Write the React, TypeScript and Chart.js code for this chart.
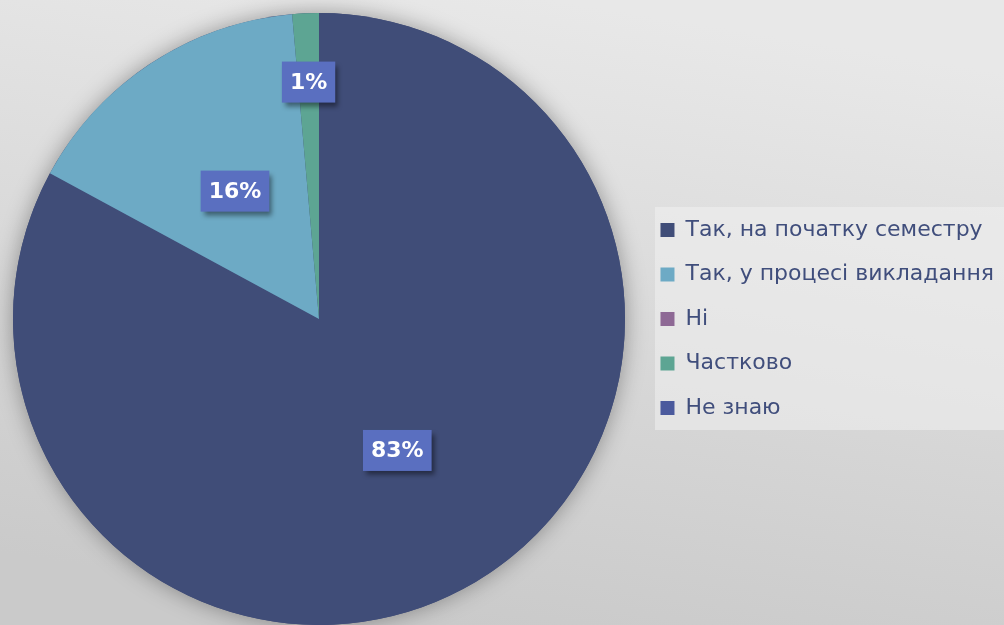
import React, { useEffect, useRef } from "react";
import { Chart, registerables } from "chart.js";

Chart.register(...registerables);

const categories = ["Так, на початку семестру", "Так, у процесі викладання", "Ні", "Частково", "Не знаю"];
const values = [82.9, 15.7, 0, 1.4, 0];
const colors = ["#404D78", "#6DAAC5", "#8E6995", "#5DA593", "#4B5A9D"];

const pieShadow = {
  id: "pieShadow",
  beforeDatasetsDraw(chart: any) {
    const meta = chart.getDatasetMeta(0);
    const arc = meta.data[0];
    if (!arc) return;
    const { x, y, outerRadius } = arc.getProps(["x", "y", "outerRadius"], true);
    const ctx = chart.ctx;
    ctx.save();
    ctx.shadowColor = "rgba(0,0,0,0.35)";
    ctx.shadowBlur = 22;
    ctx.beginPath();
    ctx.arc(x, y, outerRadius, 0, Math.PI * 2);
    ctx.fillStyle = "#404D78";
    ctx.fill();
    ctx.restore();
  },
};

const bgPlugin = {
  id: "bgPlugin",
  beforeDraw(chart: any) {
    const ctx = chart.ctx;
    const w = chart.width, h = chart.height;
    ctx.save();
    const g = ctx.createLinearGradient(w * 0.55, 0, w * 0.45, h);
    g.addColorStop(0, "#E8E8E8");
    g.addColorStop(1, "#CACACA");
    ctx.fillStyle = g;
    ctx.fillRect(0, 0, w, h);
    ctx.fillStyle = "rgba(240,240,240,0.55)";
    ctx.fillRect(655, 207, w - 655, 223);
    ctx.restore();
  },
};

const labelPlugin = {
  id: "labelPlugin",
  afterDatasetsDraw(chart: any) {
    const ctx = chart.ctx;
    const meta = chart.getDatasetMeta(0);
    const data = chart.data.datasets[0].data as number[];
    const total = data.reduce((a, b) => a + b, 0);
    meta.data.forEach((arc: any, i: number) => {
      const v = data[i];
      if (!v) return;
      const { x, y, startAngle, endAngle, outerRadius } = arc.getProps(["x", "y", "startAngle", "endAngle", "outerRadius"], true);
      const mid = (startAngle + endAngle) / 2;
      const frac = v / total < 0.05 ? 0.775 : 0.5;
      const px = x + Math.cos(mid) * outerRadius * frac;
      const py = y + Math.sin(mid) * outerRadius * frac;
      const text = Math.round((v / total) * 100) + "%";
      ctx.save();
      ctx.font = "bold 22px 'DejaVu Sans'";
      const tw = ctx.measureText(text).width;
      const bw = tw + 16, bh = 41;
      ctx.shadowColor = "rgba(0,0,0,0.45)";
      ctx.shadowBlur = 5;
      ctx.shadowOffsetX = 3;
      ctx.shadowOffsetY = 4;
      ctx.fillStyle = "#5A6FC0";
      ctx.fillRect(px - bw / 2, py - bh / 2, bw, bh);
      ctx.shadowColor = "transparent";
      ctx.fillStyle = "#FFFFFF";
      ctx.textAlign = "center";
      ctx.textBaseline = "middle";
      ctx.fillText(text, px, py + 1);
      ctx.restore();
    });
  },
};

export default function App() {
  const ref = useRef<HTMLCanvasElement>(null);
  useEffect(() => {
    document.body.style.margin = "0";
    const chart = new Chart(ref.current!, {
      type: "pie",
      data: {
        labels: categories,
        datasets: [
          {
            data: values,
            backgroundColor: colors,
            borderWidth: 0,
            radius: 306,
          },
        ],
      },
      options: {
        responsive: false,
        animation: false,
        layout: { padding: { top: 13, bottom: 0, left: -1, right: 0 } },
        plugins: {
          tooltip: { enabled: false },
          legend: {
            position: "right",
            labels: {
              boxWidth: 14,
              boxHeight: 14,
              padding: 22.5,
              color: "#404E7C",
              font: { family: "'DejaVu Sans'", size: 22 },
            },
          },
        },
      },
      plugins: [bgPlugin, pieShadow, labelPlugin],
    });
    return () => chart.destroy();
  }, []);
  return (
    <div style={{ position: "absolute", left: 0, top: 0, width: 1004, height: 625 }}>
      <canvas ref={ref} width={1004} height={625} style={{ width: 1004, height: 625 }} />
    </div>
  );
}
